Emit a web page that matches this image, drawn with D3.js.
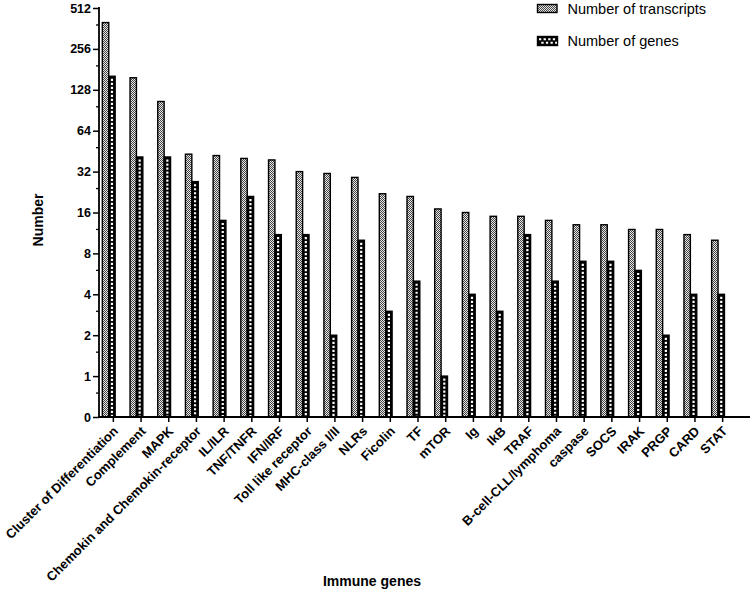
<!DOCTYPE html>
<html>
<head>
<meta charset="utf-8">
<script src="https://cdn.jsdelivr.net/npm/d3@7"></script>
<style>
  html, body { margin: 0; padding: 0; background: #fff; }
  svg { display: block; font-family: Arial, "Liberation Sans", Helvetica, sans-serif; }
</style>
</head>
<body>
<svg id="chart" width="752" height="592"></svg>
<script>
const categories = ["Cluster of Differentiation", "Complement", "MAPK", "Chemokin and Chemokin-receptor",
  "IL/ILR", "TNF/TNFR", "IFN/IRF", "Toll like receptor", "MHC-class I/II", "NLRs", "Ficolin", "TF",
  "mTOR", "Ig", "IkB", "TRAF", "B-cell-CLL/lymphoma", "caspase", "SOCS", "IRAK", "PRGP", "CARD", "STAT"];
const transcripts = [400, 157, 105, 43, 42, 40, 39, 32, 31, 29, 22, 21, 17, 16, 15, 15, 14, 13, 13, 12, 12, 11, 10];
const genes = [161, 41, 41, 27, 14, 21, 11, 11, 2, 10, 3, 5, 1, 4, 3, 11, 5, 7, 7, 6, 2, 4, 4];
const seriesNames = ["Number of transcripts", "Number of genes"];
const yTicks = [0.5, 1, 2, 4, 8, 16, 32, 64, 128, 256, 512];
const yTickLabels = ["0", "1", "2", "4", "8", "16", "32", "64", "128", "256", "512"];
const yMinorTicks = [0.75, 1.5, 3, 6, 12, 24, 48, 96, 192, 384];

const svg = d3.select("#chart");
const defs = svg.append("defs");
const dots = defs.append("pattern").attr("id", "dots")
  .attr("patternUnits", "userSpaceOnUse").attr("width", 2).attr("height", 2);
dots.append("rect").attr("width", 2).attr("height", 2).attr("fill", "#e8e8e8");
dots.append("rect").attr("width", 1).attr("height", 1).attr("fill", "#444");
dots.append("rect").attr("x", 1).attr("y", 1).attr("width", 1).attr("height", 1).attr("fill", "#444");

const y = d3.scaleLog().base(2).domain([0.5, 512]).range([417, 8]);
const x = d3.scaleBand().domain(categories).range([99, 736]).padding(0);
const sub = d3.scaleBand().domain(["t", "g"]).range([-10.5, 2.3]);

const rows = categories.map((c, i) => ({ c, t: transcripts[i], g: genes[i] }));

// bars
const grp = svg.append("g");
grp.selectAll("rect.t").data(rows).join("rect").attr("class", "t")
  .attr("x", d => x(d.c) + x.bandwidth() / 2 + sub("t"))
  .attr("y", d => y(d.t))
  .attr("width", sub.bandwidth())
  .attr("height", d => y(0.5) - y(d.t))
  .attr("fill", "url(#dots)").attr("stroke", "#000").attr("stroke-width", 1.4);
grp.selectAll("rect.g").data(rows).join("rect").attr("class", "g")
  .attr("x", d => x(d.c) + x.bandwidth() / 2 + sub("g"))
  .attr("y", d => y(d.g))
  .attr("width", sub.bandwidth())
  .attr("height", d => y(0.5) - y(d.g))
  .attr("fill", "#000").attr("stroke", "#000").attr("stroke-width", 1.4);
grp.selectAll("line.gd").data(rows).join("line").attr("class", "gd")
  .attr("x1", d => x(d.c) + x.bandwidth() / 2 + sub("g") + sub.bandwidth() / 2)
  .attr("x2", d => x(d.c) + x.bandwidth() / 2 + sub("g") + sub.bandwidth() / 2)
  .attr("y1", d => y(d.g) + 2.5)
  .attr("y2", y(0.5) - 1)
  .attr("stroke", "#fff").attr("stroke-width", 2.2).attr("stroke-dasharray", "2.2,1.8");

// y axis
const yAxis = d3.axisLeft(y).tickValues(yTicks)
  .tickFormat((d, i) => yTickLabels[i]).tickSize(6).tickPadding(2);
const gy = svg.append("g").attr("transform", "translate(99,0)").call(yAxis);
gy.select(".domain").remove();
gy.selectAll(".tick line").attr("stroke", "#000").attr("stroke-width", 1.5);
gy.selectAll(".tick text").attr("font-size", 12.5).attr("font-weight", "bold").attr("fill", "#000");
svg.append("g").selectAll("line").data(yMinorTicks).join("line")
  .attr("x1", 96).attr("x2", 99).attr("y1", d => y(d)).attr("y2", d => y(d))
  .attr("stroke", "#000").attr("stroke-width", 1.3);
svg.append("line").attr("x1", 99).attr("x2", 99).attr("y1", 7).attr("y2", 418)
  .attr("stroke", "#000").attr("stroke-width", 1.8);

// x axis
const xAxis = d3.axisBottom(x).tickSize(5).tickFormat("");
const gx = svg.append("g").attr("transform", "translate(0,417)").call(xAxis);
gx.select(".domain").remove();
gx.selectAll(".tick line").attr("stroke", "#000").attr("stroke-width", 1.5)
  .attr("transform", "translate(0.5,0)");
svg.append("line").attr("x1", 98).attr("x2", 750).attr("y1", 417).attr("y2", 417)
  .attr("stroke", "#000").attr("stroke-width", 1.8);
svg.append("g").selectAll("text").data(categories).join("text")
  .attr("transform", d => `translate(${x(d) + x.bandwidth() / 2 + 6},${432}) rotate(-45)`)
  .attr("text-anchor", "end").attr("font-size", 13).attr("font-weight", "bold")
  .attr("fill", "#000").text(d => d);

// axis titles
svg.append("text").attr("transform", "translate(42.5,220) rotate(-90)")
  .attr("text-anchor", "middle").attr("font-size", 14).attr("font-weight", "bold").text("Number");
svg.append("text").attr("x", 372).attr("y", 586)
  .attr("text-anchor", "middle").attr("font-size", 14).attr("font-weight", "bold").text("Immune genes");

// legend
const lg = svg.append("g");
lg.append("rect").attr("x", 537.5).attr("y", 4.5).attr("width", 19.5).attr("height", 8)
  .attr("fill", "url(#dots)").attr("stroke", "#000").attr("stroke-width", 1.4);
lg.append("rect").attr("x", 537.5).attr("y", 36.5).attr("width", 20).attr("height", 9)
  .attr("fill", "#000").attr("stroke", "#000").attr("stroke-width", 1.4);
[39.3, 42.8].forEach((yy, i) => {
  lg.append("line").attr("x1", 539 + (i ? 2.3 : 0)).attr("x2", 557).attr("y1", yy).attr("y2", yy)
    .attr("stroke", "#fff").attr("stroke-width", 2).attr("stroke-dasharray", "2.3,2.3");
});
lg.selectAll("text.lt").data(seriesNames).join("text").attr("class", "lt")
  .attr("x", 567.5).attr("y", (d, i) => i ? 45.5 : 13.5)
  .attr("font-size", 14.5).attr("fill", "#000").text(d => d);
</script>
</body>
</html>
